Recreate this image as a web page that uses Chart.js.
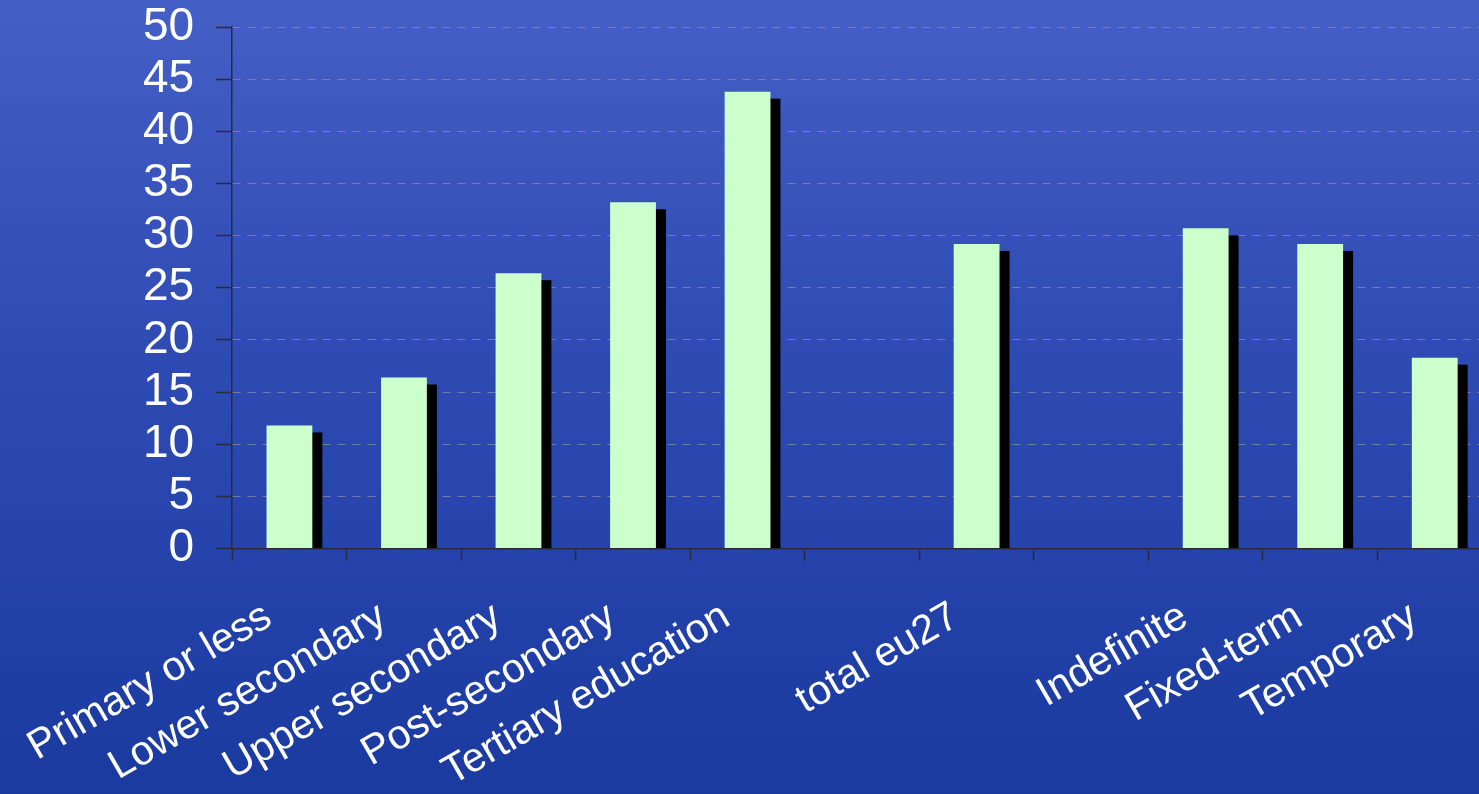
<!DOCTYPE html>
<html>
<head>
<meta charset="utf-8">
<script src="https://cdn.jsdelivr.net/npm/chart.js@4/dist/chart.umd.min.js"></script>
<style>
  html, body { margin:0; padding:0; overflow:hidden; }
  body {
    width:1479px; height:794px;
    background: linear-gradient(to bottom, #445fc6 0%, #2e4bb3 45%, #1a3aa0 100%);
  }
  #wrap { position:absolute; left:0; top:0; width:1492px; height:794px; }
</style>
</head>
<body>
<div id="wrap"><canvas id="grafico"></canvas></div>
<script>
// categorias (vazias = espaços entre grupos)
const categorias = [
  "Primary or less", "Lower secondary", "Upper secondary", "Post-secondary",
  "Tertiary education", "", "total eu27", "", "Indefinite", "Fixed-term", "Temporary"
];
const valores = [11.8, 16.4, 26.4, 33.2, 43.8, null, 29.2, null, 30.7, 29.2, 18.3];
const ticksY = [0, 5, 10, 15, 20, 25, 30, 35, 40, 45, 50];

// sombra preta atrás de cada barra
const sombraPlugin = {
  id: "sombra",
  beforeDatasetsDraw(chart){
    const ctx = chart.ctx;
    const meta = chart.getDatasetMeta(0);
    ctx.save();
    ctx.fillStyle = "#000";
    meta.data.forEach((el, i) => {
      if (valores[i] == null) return;
      const p = el.getProps(["x","y","base","width"], true);
      const topo = p.y + 7;
      ctx.fillRect(p.x - p.width/2 + 10, topo, p.width, p.base - topo);
    });
    ctx.restore();
  }
};

new Chart(document.getElementById("grafico"), {
  type: "bar",
  data: {
    labels: categorias,
    datasets: [{
      data: valores,
      backgroundColor: "#ccffcc",
      barPercentage: 0.4,
      categoryPercentage: 1.0
    }]
  },
  options: {
    responsive: true,
    maintainAspectRatio: false,
    animation: false,
    events: [],
    layout: { padding: { left: 121, top: 27, right: 0, bottom: -35 } },
    plugins: { legend: { display:false }, tooltip: { enabled:false } },
    scales: {
      y: {
        min: 0, max: 50,
        afterBuildTicks(axis){ axis.ticks = ticksY.map(v => ({ value: v })); },
        afterFit(axis){ axis.paddingTop = 0; axis.paddingBottom = 0; },
        ticks: {
          color: "#fff",
          font: { family: "'Liberation Sans', Arial, sans-serif", size: 46 },
          padding: 22,
          autoSkip: false
        },
        grid: {
          color: "rgba(135,135,165,0.8)",
          lineWidth: 1,
          tickColor: "#2a2a3a",
          tickLength: 16,
          tickWidth: 1.5
        },
        border: { color: "#2a2a3a", width: 1.5, dash: [8, 7] }
      },
      x: {
        ticks: {
          color: "#fff",
          font: { family: "'Liberation Sans', Arial, sans-serif", size: 41 },
          minRotation: 30, maxRotation: 30,
          autoSkip: false,
          padding: 32,
          labelOffset: -21
        },
        grid: {
          drawOnChartArea: false,
          drawTicks: true,
          tickLength: 12,
          color: "#2a2a3a",
          tickColor: "#2a2a3a",
          tickWidth: 1.5
        },
        border: { color: "#2a2a3a", width: 1.5 }
      }
    }
  },
  plugins: [sombraPlugin]
});
</script>
</body>
</html>
